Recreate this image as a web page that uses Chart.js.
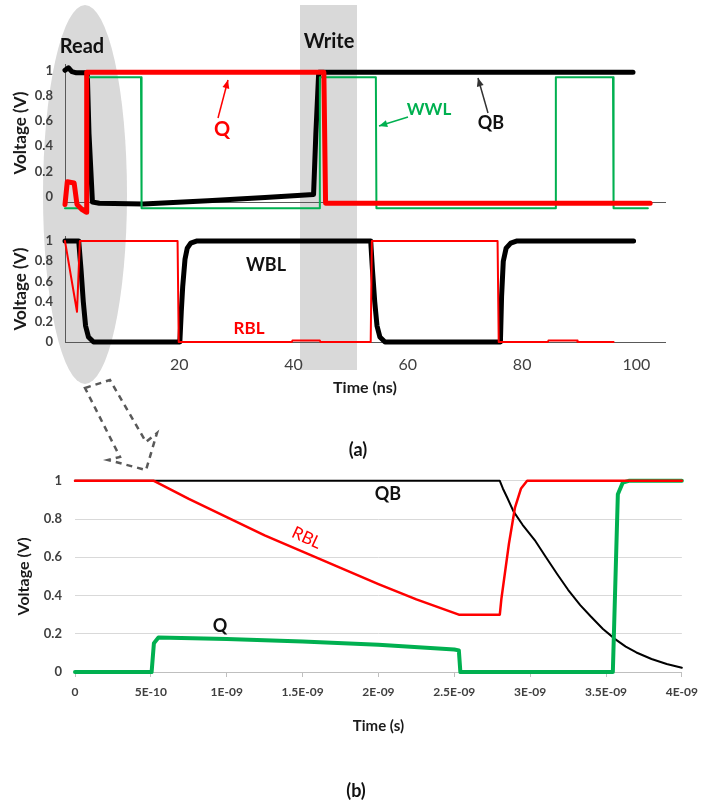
<!DOCTYPE html>
<html>
<head>
<meta charset="utf-8">
<script src="https://cdn.jsdelivr.net/npm/chart.js@4.4.1/dist/chart.umd.min.js"></script>
<style>
body { margin: 0; background: #fff; }
#wrap { position: relative; width: 706px; height: 803px; overflow: hidden; font-family: Lato, "Open Sans", sans-serif; }
canvas { position: absolute; left: 0; }
.lbl { position: absolute; transform: translate(-50%, -50%); white-space: nowrap; font-weight: bold; color: #111; line-height: 1; }
</style>
</head>
<body>
<div id="wrap">
  <canvas id="bg" width="706" height="803" style="top:0"></canvas>
  <canvas id="chartNodes" width="706" height="215" style="top:0"></canvas>
  <canvas id="chartLines" width="706" height="185" style="top:215px"></canvas>
  <canvas id="chartRead" width="706" height="285" style="top:460px"></canvas>
  <canvas id="fg" width="706" height="803" style="top:0"></canvas>

  <div class="lbl" style="left:82px;top:45px;font-size:20px">Read</div>
  <div class="lbl" style="left:329px;top:40px;font-size:20px">Write</div>
  <div class="lbl" style="left:222px;top:128px;font-size:20px;color:#ff0000">Q</div>
  <div class="lbl" style="left:429px;top:108px;font-size:17px;color:#00b050">WWL</div>
  <div class="lbl" style="left:491px;top:122px;font-size:18px">QB</div>
  <div class="lbl" style="left:266px;top:264px;font-size:18px">WBL</div>
  <div class="lbl" style="left:249px;top:327px;font-size:17px;color:#ff0000">RBL</div>
  <div class="lbl" style="left:358px;top:449px;font-size:18px">(a)</div>
  <div class="lbl" style="left:388px;top:493px;font-size:18px">QB</div>
  <div class="lbl" style="left:307px;top:537px;font-size:17px;font-weight:normal;color:#ff0000;transform:translate(-50%,-50%) rotate(25deg)">RBL</div>
  <div class="lbl" style="left:220px;top:625px;font-size:18px">Q</div>
  <div class="lbl" style="left:356px;top:790px;font-size:18px">(b)</div>
</div>
<script>
// (a) upper panel: storage nodes and write word line, time in ns
const qT   = [0, 0.4, 1.6, 2.1, 3.0, 3.7, 3.8, 45.3, 45.6, 102.4];
const qV   = [-0.06, 0.12, 0.11, -0.06, -0.1, -0.12, 0.985, 0.985, -0.05, -0.05];
const qbT  = [0, 0.6, 1.2, 2.0, 3.9, 4.2, 4.8, 6, 13.7, 25, 35, 43.5, 43.9, 44.4, 99.4];
const qbV  = [1.0, 1.02, 0.99, 0.98, 0.98, 0.5, -0.04, -0.05, -0.055, -0.03, -0.005, 0.02, 0.5, 0.985, 0.985];
const wwlT = [0, 3.7, 3.8, 13.3, 13.4, 44.5, 44.6, 54.4, 54.5, 85.8, 85.9, 95.9, 96.0, 102];
const wwlV = [-0.09, -0.09, 0.945, 0.945, -0.09, -0.09, 0.945, 0.945, -0.09, -0.09, 0.945, 0.945, -0.09, -0.09];

// (a) lower panel: bit lines, time in ns
const wblT = [0, 2.4, 2.8, 3.2, 3.6, 4.1, 5.0, 20.1, 20.35, 20.6, 21.0, 21.4, 22.0, 23.0, 53.5, 53.8, 54.2, 54.6, 55.1, 56.0, 76.2, 76.4, 76.7, 77.2, 78.0, 79.0, 99.5];
const wblV = [1, 1, 0.72, 0.4, 0.16, 0.05, 0, 0, 0.3, 0.55, 0.82, 0.93, 0.98, 1, 1, 0.72, 0.4, 0.16, 0.05, 0, 0, 0.45, 0.8, 0.93, 0.98, 1, 1];
const rblT = [0, 2.1, 2.6, 19.7, 19.9, 39.7, 39.8, 44.6, 44.7, 53.5, 53.7, 75.7, 75.9, 84.5, 84.6, 89.6, 89.7, 96];
const rblV = [1, 0.3, 1, 1, 0, 0, 0.015, 0.015, 0, 0, 1, 1, 0, 0, 0.015, 0.015, 0, 0];

// (b) zoom on the read, time in ns (axis printed in seconds)
const readQbT  = [0, 2.8, 2.82, 2.85, 2.89, 2.95, 3.03, 3.1, 3.18, 3.25, 3.33, 3.4, 3.48, 3.56, 3.63, 3.7, 3.8, 3.9, 4.0];
const readQbV  = [1, 1, 0.96, 0.91, 0.84, 0.77, 0.69, 0.605, 0.51, 0.43, 0.35, 0.29, 0.225, 0.172, 0.133, 0.102, 0.068, 0.042, 0.022];
const readRblT = [0, 0.52, 0.75, 1.0, 1.25, 1.5, 1.75, 2.0, 2.25, 2.53, 2.8, 2.81, 2.86, 2.9, 2.94, 2.98, 4.0];
const readRblV = [1, 1, 0.905, 0.81, 0.715, 0.63, 0.545, 0.46, 0.38, 0.3, 0.3, 0.38, 0.67, 0.86, 0.96, 1, 1];
const readQT   = [0, 0.505, 0.52, 0.55, 1.0, 1.5, 2.0, 2.5, 2.53, 2.54, 3.545, 3.578, 3.61, 3.65, 4.0];
const readQV   = [0, 0, 0.15, 0.18, 0.172, 0.16, 0.143, 0.118, 0.113, 0, 0, 0.93, 0.99, 1, 1];

const voltTicks = [0, 0.2, 0.4, 0.6, 0.8, 1];
const nsTicks = [20, 40, 60, 80, 100];
const readTicks = [0, 0.5, 1, 1.5, 2, 2.5, 3, 3.5, 4];

const pts = (t, v) => t.map((x, i) => ({ x: x, y: v[i] }));
const setTicks = arr => scale => { scale.ticks = arr.map(v => ({ value: v })); };
const volt = v => String(+v.toFixed(1));

function excel(v) {
    if (v === 0) return '0';
    const e = Math.floor(Math.log10(v) + 1e-9);
    const m = parseFloat((v / Math.pow(10, e)).toFixed(2));
    return m + 'E' + (e < 0 ? '-' : '+') + String(Math.abs(e)).padStart(2, '0');
}

Chart.defaults.font.family = 'Lato, "Open Sans", sans-serif';

function line(label, data, color, width) {
    return {
        label: label, data: data, borderColor: color, borderWidth: width,
        showLine: true, pointRadius: 0, clip: false,
        borderJoinStyle: 'round', borderCapStyle: 'round'
    };
}

const base = {
    responsive: false,
    animation: false,
    devicePixelRatio: 1,
    plugins: { legend: { display: false }, tooltip: { enabled: false } }
};

const voltAxis = (min, max) => ({
    min: min, max: max,
    afterBuildTicks: setTicks(voltTicks),
    ticks: { callback: volt, font: { size: 13, weight: 'bold' }, color: '#404040', padding: 4 },
    grid: { display: false },
    border: { color: '#595959' },
    title: { display: true, text: 'Voltage (V)', font: { size: 17, weight: 'bold' }, color: '#1a1a1a', padding: { top: 10, bottom: 0 } },
    afterFit: s => { s.width = 65; }
});

new Chart(document.getElementById('chartNodes'), {
    type: 'scatter',
    data: {
        datasets: [
            line('Q', pts(qT, qV), '#ff0000', 5),
            line('WWL', pts(wwlT, wwlV), '#00b050', 2),
            line('QB', pts(qbT, qbV), '#000000', 5)
        ]
    },
    options: Object.assign({}, base, {
        layout: { padding: { top: 64, right: 41, left: 0, bottom: 0 } },
        scales: {
            x: {
                type: 'linear', min: 0, max: 105,
                ticks: { display: false },
                grid: { display: false },
                border: { color: '#595959' },
                afterFit: s => { s.height = 13; }
            },
            y: voltAxis(-0.04, 1.05)
        }
    })
});

new Chart(document.getElementById('chartLines'), {
    type: 'scatter',
    data: {
        datasets: [
            line('RBL', pts(rblT, rblV), '#ff0000', 2),
            line('WBL', pts(wblT, wblV), '#000000', 5)
        ]
    },
    options: Object.assign({}, base, {
        layout: { padding: { top: 21, right: 41, left: 0, bottom: 0 } },
        scales: {
            x: {
                type: 'linear', min: 0, max: 105,
                afterBuildTicks: setTicks(nsTicks),
                ticks: { font: { size: 16 }, color: '#404040', padding: 5, maxRotation: 0, autoSkip: false },
                grid: { display: false },
                border: { color: '#595959' },
                title: { display: true, text: 'Time (ns)', font: { size: 16, weight: 'bold' }, color: '#1a1a1a', padding: { top: 0, bottom: 3 } },
                afterFit: s => { s.height = 58; }
            },
            y: voltAxis(0, 1.05)
        }
    })
});

new Chart(document.getElementById('chartRead'), {
    type: 'scatter',
    data: {
        datasets: [
            line('RBL', pts(readRblT, readRblV), '#ff0000', 2.5),
            line('Q', pts(readQT, readQV), '#00b050', 4),
            line('QB', pts(readQbT, readQbV), '#000000', 2)
        ]
    },
    options: Object.assign({}, base, {
        layout: { padding: { top: 20, right: 18, left: 0, bottom: 0 } },
        scales: {
            x: {
                type: 'linear', min: 0, max: 4,
                afterBuildTicks: setTicks(readTicks),
                ticks: { callback: v => excel(v * 1e-9), font: { size: 12, weight: 'bold' }, color: '#404040', padding: 8, maxRotation: 0, autoSkip: false },
                grid: { drawOnChartArea: false, drawTicks: true, tickLength: 5, color: '#bfbfbf' },
                border: { color: '#bfbfbf' },
                title: { display: true, text: 'Time (s)', font: { size: 15, weight: 'bold' }, color: '#1a1a1a', padding: { top: 0, bottom: 10 } },
                afterFit: s => { s.height = 73; }
            },
            y: {
                min: 0, max: 1,
                afterBuildTicks: setTicks(voltTicks),
                ticks: { callback: volt, font: { size: 13, weight: 'bold' }, color: '#404040', padding: 13 },
                grid: { color: '#d9d9d9', drawTicks: false },
                border: { display: false },
                title: { display: true, text: 'Voltage (V)', font: { size: 16, weight: 'bold' }, color: '#1a1a1a', padding: { top: 14, bottom: 0 } },
                afterFit: s => { s.width = 75; }
            }
        }
    })
});

// shaded read/write windows behind the curves
const bg = document.getElementById('bg').getContext('2d');
bg.fillStyle = '#d9d9d9';
bg.beginPath();
bg.ellipse(85, 194.5, 42, 189.5, 0, 0, Math.PI * 2);
bg.fill();
bg.fillRect(300, 5, 57, 365);

// arrows on top
const fg = document.getElementById('fg').getContext('2d');
function arrow(x1, y1, x2, y2, color, w, h) {
    fg.strokeStyle = color;
    fg.fillStyle = color;
    fg.lineWidth = w;
    fg.beginPath();
    fg.moveTo(x1, y1);
    fg.lineTo(x2, y2);
    fg.stroke();
    const a = Math.atan2(y2 - y1, x2 - x1);
    fg.beginPath();
    fg.moveTo(x2, y2);
    fg.lineTo(x2 - h * Math.cos(a - 0.4), y2 - h * Math.sin(a - 0.4));
    fg.lineTo(x2 - h * Math.cos(a + 0.4), y2 - h * Math.sin(a + 0.4));
    fg.closePath();
    fg.fill();
}
arrow(218, 118, 228, 80, '#ff0000', 1.5, 9);
arrow(408, 117, 379, 126, '#00b050', 1.5, 9);
arrow(488, 113, 478, 78, '#333333', 1.5, 9);

// dashed outline arrow from the read window to panel (b)
fg.strokeStyle = '#595959';
fg.lineWidth = 2.5;
fg.setLineDash([6, 5]);
fg.beginPath();
fg.moveTo(85, 388);
fg.lineTo(110, 380);
fg.lineTo(146, 442);
fg.lineTo(157, 433);
fg.lineTo(146, 470);
fg.lineTo(108, 460);
fg.lineTo(120, 457);
fg.closePath();
fg.stroke();
fg.setLineDash([]);
</script>
</body>
</html>
